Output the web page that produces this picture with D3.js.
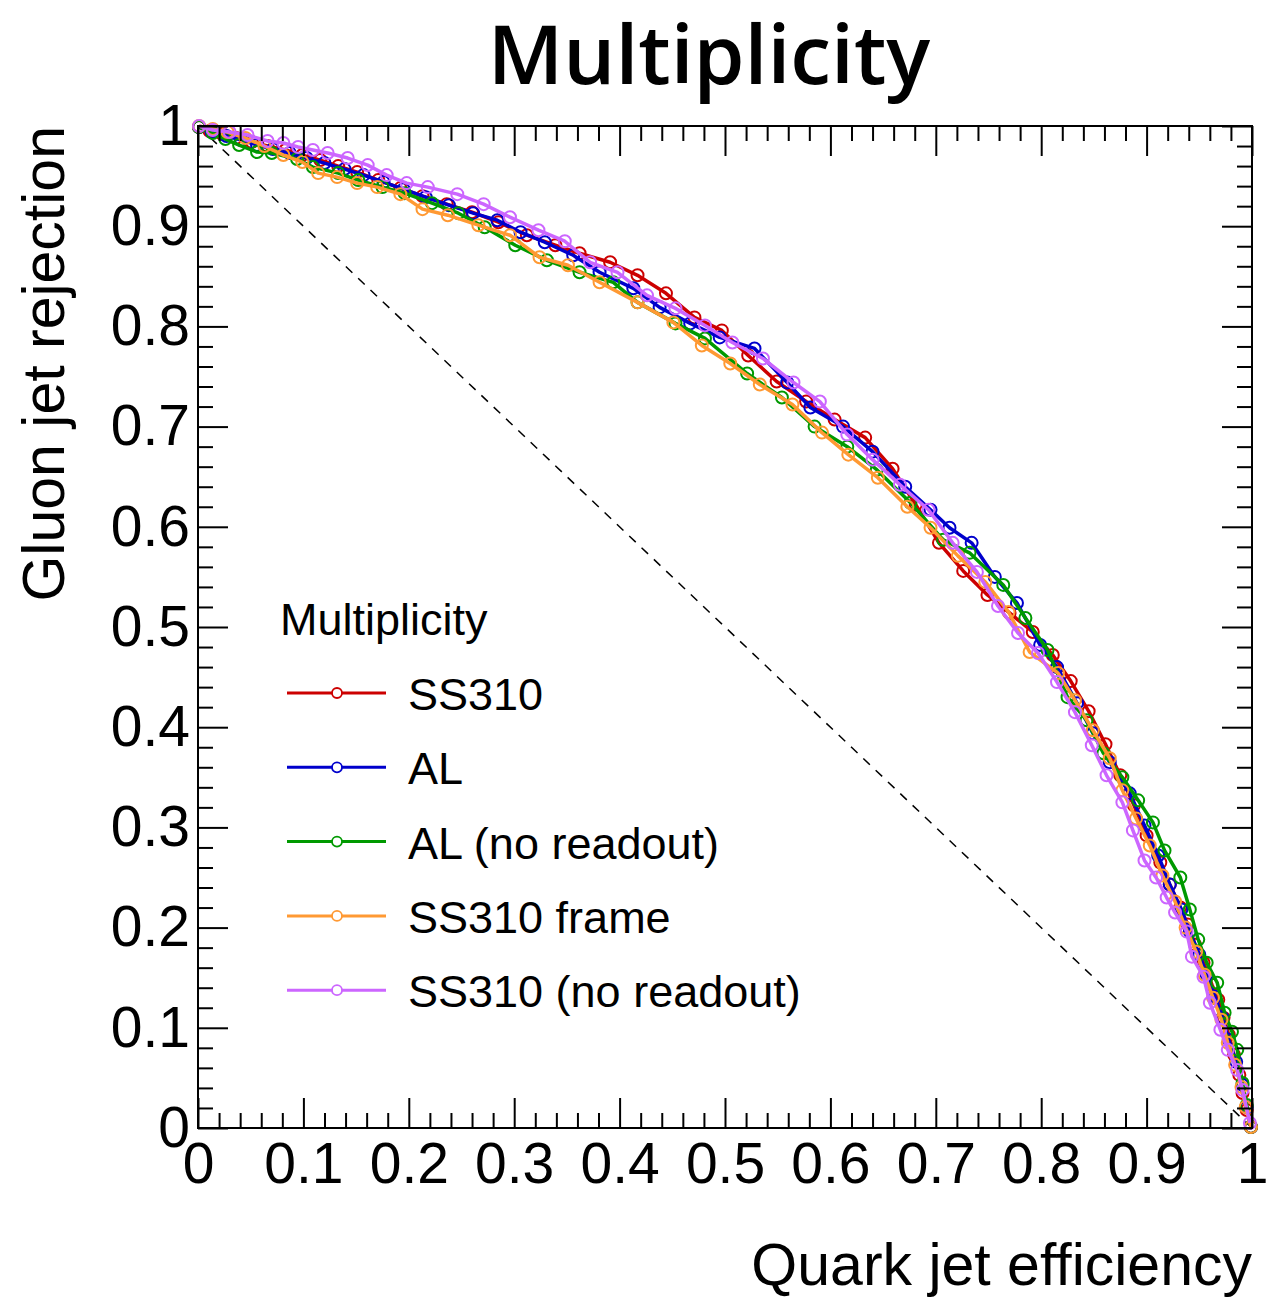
<!DOCTYPE html>
<html>
<head>
<meta charset="utf-8">
<script src="https://cdn.jsdelivr.net/npm/d3@7"></script>
<style>
  body { margin: 0; background: #fff; }
  svg text { font-family: "Liberation Sans", Arial, Helvetica, sans-serif; fill: #000; }
</style>
</head>
<body>
<svg id="chart" width="1267" height="1298"></svg>
<script>
// ROC curves for the multiplicity variable
var ss310 = [[0.001,0.999],[0.011,0.995],[0.023,0.992],[0.036,0.988],[0.051,0.984],[0.066,0.980],[0.083,0.976],[0.099,0.971],[0.116,0.966],[0.133,0.960],[0.151,0.954],[0.171,0.946],[0.192,0.938],[0.213,0.930],[0.236,0.922],[0.260,0.914],[0.285,0.904],[0.312,0.891],[0.339,0.881],[0.362,0.873],[0.391,0.864],[0.417,0.851],[0.444,0.833],[0.471,0.809],[0.497,0.796],[0.522,0.771],[0.549,0.745],[0.577,0.725],[0.604,0.707],[0.633,0.689],[0.659,0.658],[0.681,0.622],[0.703,0.584],[0.726,0.556],[0.749,0.532],[0.770,0.514],[0.792,0.495],[0.811,0.472],[0.828,0.446],[0.845,0.416],[0.861,0.383],[0.875,0.352],[0.888,0.322],[0.900,0.292],[0.913,0.265],[0.922,0.243],[0.932,0.220],[0.939,0.203],[0.946,0.183],[0.954,0.165],[0.962,0.143],[0.968,0.128],[0.973,0.110],[0.978,0.093],[0.983,0.073],[0.988,0.053],[0.991,0.035],[0.995,0.018],[0.999,0.001]];

var al = [[0.001,0.999],[0.013,0.994],[0.027,0.990],[0.041,0.986],[0.056,0.981],[0.071,0.977],[0.087,0.973],[0.103,0.968],[0.120,0.963],[0.139,0.957],[0.157,0.951],[0.176,0.944],[0.195,0.937],[0.216,0.929],[0.238,0.921],[0.261,0.913],[0.284,0.906],[0.306,0.894],[0.329,0.884],[0.356,0.871],[0.381,0.854],[0.413,0.838],[0.438,0.819],[0.467,0.803],[0.495,0.789],[0.528,0.778],[0.559,0.744],[0.581,0.719],[0.612,0.700],[0.640,0.675],[0.671,0.640],[0.695,0.617],[0.713,0.599],[0.734,0.584],[0.756,0.550],[0.777,0.524],[0.799,0.482],[0.815,0.460],[0.834,0.424],[0.849,0.394],[0.865,0.365],[0.884,0.334],[0.898,0.302],[0.911,0.272],[0.922,0.243],[0.933,0.218],[0.941,0.196],[0.950,0.173],[0.957,0.153],[0.965,0.131],[0.972,0.110],[0.978,0.088],[0.985,0.066],[0.991,0.043],[0.995,0.021],[0.999,0.001]];

var alNoReadout = [[0.001,0.999],[0.014,0.993],[0.026,0.987],[0.039,0.981],[0.056,0.974],[0.070,0.973],[0.094,0.967],[0.109,0.959],[0.133,0.953],[0.152,0.946],[0.175,0.939],[0.196,0.933],[0.222,0.923],[0.247,0.913],[0.272,0.899],[0.301,0.881],[0.331,0.866],[0.362,0.854],[0.394,0.844],[0.417,0.824],[0.453,0.803],[0.481,0.788],[0.521,0.753],[0.554,0.729],[0.585,0.700],[0.616,0.680],[0.644,0.657],[0.676,0.624],[0.707,0.587],[0.732,0.574],[0.764,0.542],[0.785,0.509],[0.806,0.477],[0.825,0.430],[0.843,0.407],[0.859,0.374],[0.877,0.350],[0.892,0.327],[0.906,0.305],[0.917,0.277],[0.932,0.250],[0.941,0.218],[0.949,0.188],[0.957,0.165],[0.967,0.145],[0.974,0.115],[0.981,0.096],[0.986,0.078],[0.991,0.045],[0.995,0.023],[0.999,0.001]];

var ss310Frame = [[0.001,1.000],[0.014,0.997],[0.028,0.994],[0.045,0.988],[0.063,0.980],[0.081,0.971],[0.099,0.964],[0.114,0.953],[0.132,0.949],[0.151,0.943],[0.170,0.939],[0.192,0.932],[0.213,0.917],[0.237,0.911],[0.266,0.901],[0.296,0.891],[0.324,0.869],[0.351,0.861],[0.381,0.844],[0.417,0.824],[0.451,0.804],[0.478,0.781],[0.505,0.763],[0.533,0.742],[0.564,0.722],[0.592,0.694],[0.617,0.672],[0.645,0.649],[0.673,0.620],[0.695,0.599],[0.721,0.571],[0.747,0.545],[0.769,0.515],[0.789,0.475],[0.816,0.454],[0.832,0.427],[0.849,0.397],[0.865,0.369],[0.877,0.337],[0.890,0.309],[0.903,0.282],[0.915,0.252],[0.927,0.226],[0.937,0.200],[0.947,0.176],[0.955,0.153],[0.963,0.130],[0.971,0.108],[0.977,0.085],[0.984,0.063],[0.990,0.041],[0.994,0.021],[0.999,0.001]];

var ss310NoReadout = [[0.001,1.000],[0.014,0.996],[0.030,0.994],[0.047,0.991],[0.066,0.985],[0.081,0.983],[0.095,0.979],[0.109,0.976],[0.123,0.973],[0.142,0.968],[0.161,0.961],[0.179,0.951],[0.198,0.943],[0.218,0.939],[0.246,0.932],[0.271,0.922],[0.296,0.909],[0.323,0.896],[0.348,0.885],[0.372,0.864],[0.398,0.854],[0.426,0.831],[0.453,0.818],[0.481,0.801],[0.507,0.784],[0.536,0.768],[0.565,0.744],[0.590,0.725],[0.616,0.692],[0.640,0.667],[0.666,0.642],[0.693,0.617],[0.716,0.584],[0.739,0.555],[0.759,0.521],[0.778,0.494],[0.797,0.474],[0.815,0.445],[0.832,0.415],[0.848,0.382],[0.862,0.352],[0.877,0.325],[0.887,0.297],[0.898,0.267],[0.909,0.250],[0.919,0.230],[0.927,0.215],[0.938,0.196],[0.943,0.171],[0.954,0.151],[0.960,0.125],[0.970,0.098],[0.977,0.078],[0.986,0.058],[0.991,0.038],[0.998,0.005]];

var seriesNames = ["SS310", "AL", "AL (no readout)", "SS310 frame", "SS310 (no readout)"];
var seriesColors = ["#cc0000", "#0000cc", "#009900", "#ff9933", "#cc66ff"];
var seriesData = [ss310, al, alNoReadout, ss310Frame, ss310NoReadout];

var majorTicks = [0, 0.1, 0.2, 0.3, 0.4, 0.5, 0.6, 0.7, 0.8, 0.9, 1];
var minorTicks = d3.range(0, 50).map(function(i) { return i / 50; }).filter(function(v, i) { return i % 5 != 0; });

var svg = d3.select("#chart");
var margin = {top: 126, right: 15, bottom: 170, left: 198};
var width = 1267, height = 1298;

var x = d3.scaleLinear().domain([0, 1]).range([margin.left, width - margin.right]);
var y = d3.scaleLinear().domain([0, 1]).range([height - margin.bottom, margin.top]);

var fmt = function(d) { return (d == 0 || d == 1) ? d3.format("d")(d) : d3.format(".1f")(d); };

// title
svg.append("text")
    .attr("x", 709)
    .attr("y", 84)
    .attr("text-anchor", "middle")
    .style("font-family", "'Open Sans', 'Noto Sans', sans-serif")
    .style("font-weight", 600)
    .style("font-size", "82px")
    .text("Multiplicity");

// diagonal reference line
svg.append("line")
    .attr("x1", x(0)).attr("y1", y(1))
    .attr("x2", x(1)).attr("y2", y(0))
    .attr("stroke", "#000")
    .attr("stroke-width", 1.5)
    .attr("stroke-dasharray", "9,8");

// curves
var line = d3.line().x(function(d) { return x(d[0]); }).y(function(d) { return y(d[1]); });

seriesData.forEach(function(data, i) {
    var g = svg.append("g");
    g.append("path")
        .datum(data)
        .attr("d", line)
        .attr("fill", "none")
        .attr("stroke", seriesColors[i])
        .attr("stroke-width", 3.5)
        .attr("stroke-linejoin", "round");
    g.selectAll("circle")
        .data(data)
        .enter()
        .append("circle")
        .attr("cx", function(d) { return x(d[0]); })
        .attr("cy", function(d) { return y(d[1]); })
        .attr("r", 6)
        .attr("fill", "none")
        .attr("stroke", seriesColors[i])
        .attr("stroke-width", 2);
});

// axes, ROOT style: ticks inside on all four sides
function styleAxis(g) {
    g.select(".domain").remove();
    g.selectAll(".tick line").attr("stroke", "#000").attr("stroke-width", 2);
    g.selectAll("text").style("font-family", "'Liberation Sans', Arial, sans-serif").style("font-size", "57px").attr("fill", "#000");
}

svg.append("g")
    .attr("transform", "translate(0," + y(0) + ")")
    .call(d3.axisBottom(x).tickValues(majorTicks).tickSize(-30).tickPadding(15).tickFormat(fmt))
    .call(styleAxis);
svg.append("g")
    .attr("transform", "translate(0," + y(0) + ")")
    .call(d3.axisBottom(x).tickValues(minorTicks).tickSize(-15).tickFormat(""))
    .call(styleAxis);
svg.append("g")
    .attr("transform", "translate(0," + y(1) + ")")
    .call(d3.axisTop(x).tickValues(majorTicks).tickSize(-30).tickFormat(""))
    .call(styleAxis);
svg.append("g")
    .attr("transform", "translate(0," + y(1) + ")")
    .call(d3.axisTop(x).tickValues(minorTicks).tickSize(-15).tickFormat(""))
    .call(styleAxis);

svg.append("g")
    .attr("transform", "translate(" + x(0) + ",0)")
    .call(d3.axisLeft(y).tickValues(majorTicks).tickSize(-30).tickPadding(8).tickFormat(fmt))
    .call(styleAxis);
svg.append("g")
    .attr("transform", "translate(" + x(0) + ",0)")
    .call(d3.axisLeft(y).tickValues(minorTicks).tickSize(-15).tickFormat(""))
    .call(styleAxis);
svg.append("g")
    .attr("transform", "translate(" + x(1) + ",0)")
    .call(d3.axisRight(y).tickValues(majorTicks).tickSize(-30).tickFormat(""))
    .call(styleAxis);
svg.append("g")
    .attr("transform", "translate(" + x(1) + ",0)")
    .call(d3.axisRight(y).tickValues(minorTicks).tickSize(-15).tickFormat(""))
    .call(styleAxis);

// frame
svg.append("rect")
    .attr("x", x(0)).attr("y", y(1))
    .attr("width", x(1) - x(0)).attr("height", y(0) - y(1))
    .attr("fill", "none")
    .attr("stroke", "#000")
    .attr("stroke-width", 2);

// axis titles
svg.append("text")
    .attr("x", x(1))
    .attr("y", 1285)
    .attr("text-anchor", "end")
    .style("font-size", "59px")
    .text("Quark jet efficiency");

svg.append("text")
    .attr("transform", "translate(64," + y(1) + ") rotate(-90)")
    .attr("text-anchor", "end")
    .style("font-size", "59px")
    .text("Gluon jet rejection");

// legend
var legend = svg.append("g");
legend.append("text")
    .attr("x", 280)
    .attr("y", 635)
    .style("font-size", "45px")
    .text("Multiplicity");

seriesNames.forEach(function(name, i) {
    var ly = 693 + i * 74.3;
    legend.append("line")
        .attr("x1", 287).attr("x2", 386)
        .attr("y1", ly).attr("y2", ly)
        .attr("stroke", seriesColors[i])
        .attr("stroke-width", 3);
    legend.append("circle")
        .attr("cx", 337).attr("cy", ly)
        .attr("r", 5)
        .attr("fill", "#fff")
        .attr("stroke", seriesColors[i])
        .attr("stroke-width", 1.8);
    legend.append("text")
        .attr("x", 408)
        .attr("y", ly + 17)
        .style("font-size", "45px")
        .text(name);
});
</script>
</body>
</html>
